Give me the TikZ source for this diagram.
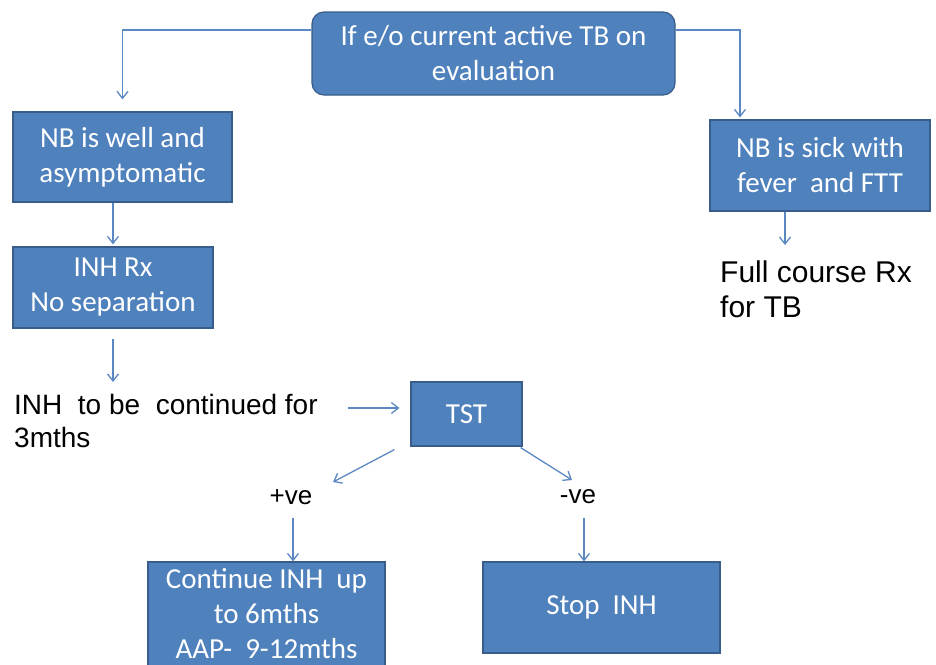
\documentclass[tikz,border=0pt]{standalone}
\usepackage{fontspec}
\usetikzlibrary{arrows.meta,calc}
\newfontfamily\boxfont{Carlito}
\newfontfamily\plainfont{Liberation Sans}
\definecolor{boxblue}{HTML}{4F81BD}
\definecolor{boxedge}{HTML}{385D8A}
\definecolor{linkblue}{HTML}{5B88C2}
\tikzset{
  flowbox/.style={draw=boxedge, fill=boxblue, line width=1.2pt, text=white,
    font=\boxfont\fontsize{29}{35}\selectfont, align=center, inner sep=0pt},
  plain/.style={font=\plainfont\fontsize{28}{33}\selectfont, align=left, inner sep=0pt, text=black},
  arr/.style={draw=linkblue, line width=1.3pt, -{Straight Barb[length=7pt,width=11pt]}}
}
\begin{document}
\begin{tikzpicture}[x=1pt,y=-1pt]
\useasboundingbox (0,0) rectangle (936,664);
\clip (0,0) rectangle (936,664);

% boxes
\node[flowbox, rounded corners=12pt, minimum width=363pt, minimum height=83pt] (top) at (493.5,53.5)
  {If e/o current active TB on\\evaluation};
\node[flowbox, minimum width=219pt, minimum height=90pt] (well) at (122.5,157)
  {NB is well and\\asymptomatic};
\node[flowbox, minimum width=200pt, minimum height=81pt] (inh) at (113,287.5)
  {INH Rx\\No separation};
\node[flowbox, minimum width=220pt, minimum height=91pt] (sick) at (820,165.5)
  {NB is sick with\\fever\ \ and FTT};
\node[flowbox, minimum width=111pt, minimum height=64pt] (tst) at (466.5,414) {TST};
% this box runs past the lower edge of the page
\node[flowbox, minimum width=237pt, minimum height=104pt] (cont) at (266.5,614)
  {Continue INH\ \ up\\to 6mths\\AAP-\ \ 9-12mths};
\node[flowbox, minimum width=237pt, minimum height=91pt] (stop) at (601.5,607.5) {Stop\ \ INH};

% plain labels
\node[plain, anchor=west] (cont3m) at (14,421) {INH\ \ to be\ \ continued for\\3mths};
\node[plain, font=\plainfont\fontsize{30}{35}\selectfont, anchor=west] (full) at (720,289) {Full course Rx\\for TB};
\node[plain, font=\plainfont\fontsize{26}{30}\selectfont] (pos) at (291,497) {+ve};
\node[plain, font=\plainfont\fontsize{26}{30}\selectfont] (neg) at (578,497) {-ve};

% connectors
\draw[arr] (top.west |- 0,30) -| ([yshift=12pt]well.north);
\draw[arr] (top.east |- 0,30) -| ([yshift=2pt]sick.north -| 740,0);
\draw[arr] (well.south -| inh.north) -- ([yshift=2pt]inh.north);
\draw[arr] ([yshift=-10pt]inh.south) -- (113,382);
\draw[arr] (348,408) -- ([xshift=-11pt]tst.west |- 0,408);
\draw[arr] ([xshift=-16pt,yshift=-3pt]tst.south west) -- (333,482);
\draw[arr] ([xshift=-2pt,yshift=-1pt]tst.south east) -- (572,480);
\draw[arr] (293,518) -- (cont.north -| 293,0);
\draw[arr] (584,518) -- (stop.north -| 584,0);
\draw[arr] (sick.south -| 785,0) -- (785,245);
\end{tikzpicture}
\end{document}
